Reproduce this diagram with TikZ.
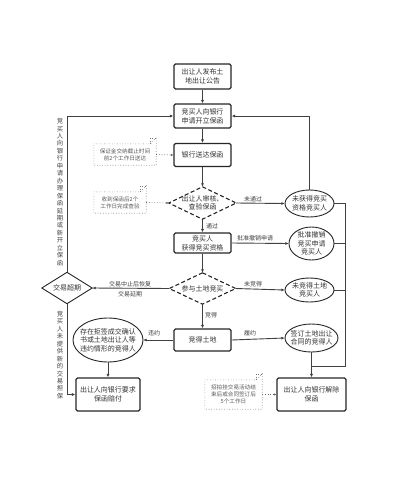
\documentclass[tikz,border=0pt]{standalone}
\usepackage{fontspec}
\setmainfont{Noto Sans CJK SC}
\usetikzlibrary{arrows.meta,calc}
\begin{document}
\begin{tikzpicture}[x=1pt,y=-1pt,
  box/.style={draw=black!85, line width=1.1pt, rounded corners=1.5pt, fill=white, align=center,
    font=\fontsize{7pt}{9pt}\selectfont, text=black!80, inner sep=1pt},
  hold/.style={align=center, font=\fontsize{7pt}{8.6pt}\selectfont, text=black!80, inner sep=0pt},
  shapebd/.style={draw=black!85, line width=0.9pt},
  dshape/.style={draw=black!85, line width=1.1pt, dash pattern=on 4pt off 2.5pt},
  notetx/.style={align=center, font=\fontsize{5.6pt}{7pt}\selectfont, text=black!65, inner sep=0pt},
  notebd/.style={draw=black!55, line width=0.6pt, dotted},
  arr/.style={draw=black!75, line width=0.9pt, -{Latex[length=3.5pt,width=3pt]}},
  ln/.style={draw=black!75, line width=0.9pt},
  dotarr/.style={draw=black!60, line width=0.7pt, dotted, -{Latex[length=2.5pt,width=2.5pt]}},
  lbl/.style={font=\fontsize{6pt}{7pt}\selectfont, text=black!75, inner sep=0pt, align=center},
  vtx/.style={font=\fontsize{6.3pt}{7.45pt}\selectfont, text=black!75, inner sep=0pt, align=center}
]
\useasboundingbox (0,0) rectangle (400,491);

% main boxes
\node[box, minimum width=57pt, minimum height=25pt] (b1) at (202.5,76.5) {出让人发布土\\地出让公告};
\node[box, minimum width=57pt, minimum height=24pt] (b2) at (202.5,116) {竞买人向银行\\申请开立保函};
\node[box, minimum width=57pt, minimum height=23pt] (b3) at (202.5,155) {银行送达保函};
\node[box, minimum width=57pt, minimum height=20pt] (b4) at (202.5,243) {竞买人\\获得竞买资格};
\node[box, minimum width=57pt, minimum height=22pt] (b7) at (202.5,340) {竞得土地};
\node[box, minimum width=64pt, minimum height=33pt] (b5) at (108,394.5) {出让人向银行要求\\保函赔付};
\node[box, minimum width=69pt, minimum height=33pt] (b6) at (311.5,394.5) {出让人向银行解除\\保函};

% diamonds
\node[hold, minimum width=67pt, minimum height=32pt] (d1) at (202.5,203) {出让人审核、\\查验保函};
\node[hold, minimum width=66pt, minimum height=31pt] (d2) at (202.5,288.5) {参与土地竞买};
\node[hold, minimum width=50pt, minimum height=31pt] (d3) at (67,288) {交易超期};
\draw[dshape] (d1.north) -- (d1.east) -- (d1.south) -- (d1.west) -- cycle;
\draw[dshape] (d2.north) -- (d2.east) -- (d2.south) -- (d2.west) -- cycle;
\draw[shapebd] (d3.north) -- (d3.east) -- (d3.south) -- (d3.west) -- cycle;

% ellipses
\node[hold, minimum width=49pt, minimum height=27pt] (e1) at (309.5,203.5) {未获得竞买\\资格竞买人};
\node[hold, minimum width=45pt, minimum height=33pt] (e2) at (311.5,243.5) {批准撤销\\竞买申请\\竞买人};
\node[hold, minimum width=49pt, minimum height=24pt] (e3) at (309.5,290) {未竞得土地\\竞买人};
\node[hold, minimum width=70pt, minimum height=44pt] (e4) at (108,340) {存在拒签成交确认\\书或土地出让人等\\违约情形的竞得人};
\node[hold, minimum width=53pt, minimum height=28pt] (e5) at (311.5,338) {签订土地出让\\合同的竞得人};
\draw[shapebd] (e1.center) ellipse [x radius=24.5pt, y radius=13.5pt];
\draw[shapebd] (e2.center) ellipse [x radius=22.5pt, y radius=16.5pt];
\draw[shapebd] (e3.center) ellipse [x radius=24.5pt, y radius=12pt];
\draw[shapebd] (e4.center) ellipse [x radius=35pt, y radius=22pt];
\draw[shapebd] (e5.center) ellipse [x radius=26.5pt, y radius=14pt];

% notes
\node[notetx, minimum width=62pt, minimum height=21pt] (n1) at (125,154.5) {保证金交纳截止时间\\前2个工作日送达};
\node[notetx, minimum width=52pt, minimum height=21pt] (n2) at (120,202.5) {收到保函后2个\\工作日完成查验};
\node[notetx, minimum width=57pt, minimum height=29pt] (n3) at (233.5,394.5) {招拍挂交易活动结\\束后或合同签订后\\5个工作日};
\foreach \n in {n1,n2,n3}{
  \draw[notebd] (\n.north west) -- ([xshift=-6pt]\n.north east) -- ([yshift=6pt]\n.north east) -- (\n.south east) -- (\n.south west) -- cycle;
  \draw[notebd] ([xshift=-6pt]\n.north east) -- ([xshift=-6pt,yshift=6pt]\n.north east) -- ([yshift=6pt]\n.north east);
}
\draw[dotarr] (n1.east) -- (b3.west);
\draw[dotarr] (n2.east) -- (d1.west);
\draw[dotarr] (n3.east) -- (b6.west);

% main flow
\draw[arr] (b1.south) -- (b2.north);
\draw[arr] (b2.south) -- (b3.north);
\draw[arr] (b3.south) -- (d1.north);
\draw[arr] (d1.south) -- (b4.north);
\draw[arr] (b4.south) -- (d2.north);
\draw[arr] (d2.south) -- (b7.north);
\node[lbl] (l1) at (212,226) {通过};
\node[lbl] (l2) at (211,315) {竞得};

\draw[arr] (d1.east) -- (e1.west);
\node[lbl] (l3) at (253,199) {未通过};
\draw[arr] (b4.east) -- (e2.west);
\node[lbl] (l4) at (255,238) {批准撤销申请};
\draw[arr] (d2.east) -- (e3.west);
\node[lbl] (l5) at (253,284.5) {未竞得};
\draw[arr] (d2.west) -- (d3.east);
\node[lbl] (l6) at (130,284) {交易中止后恢复};
\node[lbl] (l7) at (130,294.5) {交易延期};
\draw[arr] (b7.west) -- (e4.east);
\node[lbl] (l8) at (154,333) {违约};
\draw[arr] (b7.east) -- (e5.west);
\node[lbl] (l9) at (250,333) {履约};
\draw[arr] (e4.south) -- (b5.north);
\draw[arr] (e5.south) -- (b6.north);

% loops
\draw[arr] (e1.north) |- (b2.east);
\draw[arr] (d3.north) |- (b2.west);
\draw[arr] (d3.south) |- (b5.west);
\node[vtx] (v1) at (60,192) {竞\\买\\人\\向\\银\\行\\申\\请\\办\\理\\保\\函\\延\\期\\或\\新\\开\\立\\保\\函};
\node[vtx] (v2) at (60,355) {竞\\买\\人\\未\\提\\供\\新\\的\\交\\易\\担\\保};

% right bus
\coordinate (bus) at (345,366.5);
\coordinate (junc) at (b6.north |- bus);
\draw[ln] (e1.east) -- (e1.east -| bus) -- (bus) -- (junc);
\draw[ln] (e2.east) -- (e2.east -| bus);
\draw[ln] (e3.east) -- (e3.east -| bus);
\end{tikzpicture}
\end{document}
